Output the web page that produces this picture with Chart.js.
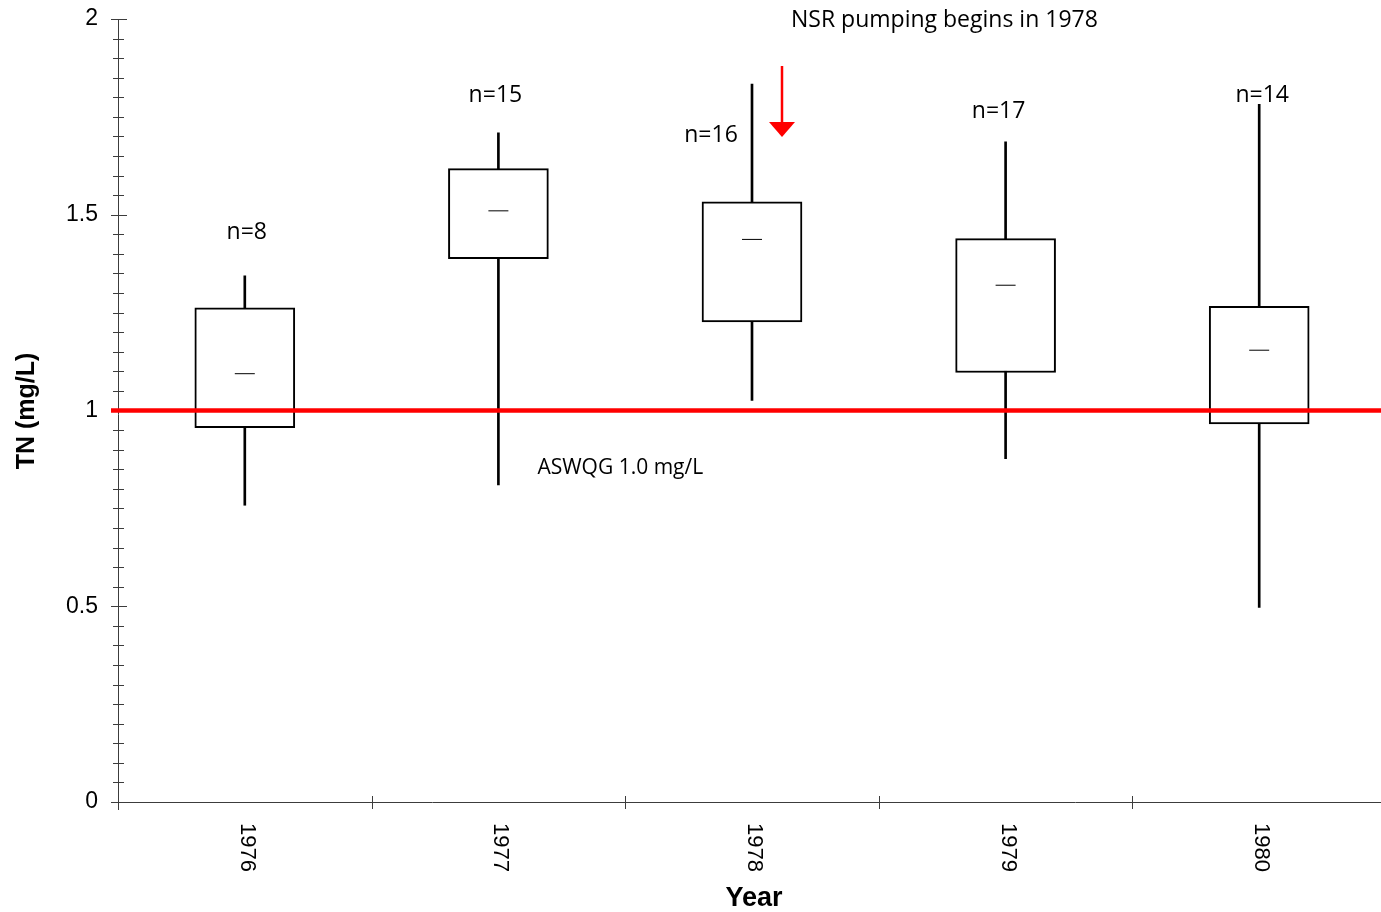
<!DOCTYPE html>
<html>
<head>
<meta charset="utf-8">
<title>TN by year</title>
<script src="https://cdn.jsdelivr.net/npm/chart.js@4.4.0/dist/chart.umd.min.js"></script>
<style>
    html { overflow: hidden; }
    html, body { margin: 0; padding: 0; background: #fff; width: 1397px; height: 912px; }
    #wrap { position: relative; width: 1397px; height: 912px; }
</style>
</head>
<body>
<div id="wrap"><canvas id="tnChart"></canvas></div>
<script>
// Total nitrogen summary per sampling year
const years = ['1976', '1977', '1978', '1979', '1980'];
const sampleCounts = [8, 15, 16, 17, 14];
const whiskerMin = [0.758, 0.81, 1.026, 0.877, 0.497];
const quartile1 = [0.956, 1.388, 1.226, 1.097, 0.966];
const medians = [1.094, 1.510, 1.437, 1.320, 1.154];
const quartile3 = [1.262, 1.618, 1.533, 1.439, 1.266];
const whiskerMax = [1.344, 1.709, 1.834, 1.686, 1.782];
const yTickValues = [0, 0.5, 1, 1.5, 2];
const guideline = 1.0;

// Where the n= labels sit (value on the y scale, pixel shift from the box centre)
const countLabelPos = [
    { y: 1.455, dx: 2 },
    { y: 1.805, dx: -3 },
    { y: 1.703, dx: -41 },
    { y: 1.764, dx: -7 },
    { y: 1.805, dx: 3 }
];

const SANS = '"Liberation Sans", Arial, sans-serif';
const NOTE = '"Open Sans", "Noto Sans", sans-serif';

const decorations = {
    id: 'tnDecorations',
    afterDatasetsDraw(chart) {
        const { ctx, chartArea, scales: { x, y } } = chart;
        const left = chartArea.left, bottom = chartArea.bottom;
        const right = chart.width;
        const band = x.getPixelForTick(1) - x.getPixelForTick(0);

        ctx.save();
        ctx.strokeStyle = '#3c3c3c';
        ctx.lineWidth = 1;

        // y axis with crossing ticks every 0.05
        ctx.beginPath();
        ctx.moveTo(left + 0.5, chartArea.top);
        ctx.lineTo(left + 0.5, bottom + 8);
        y.ticks.forEach(t => {
            const py = Math.round(y.getPixelForValue(t.value)) + 0.5;
            const major = Math.abs(t.value * 2 - Math.round(t.value * 2)) < 1e-6;
            ctx.moveTo(left - (major ? 7 : 5), py);
            ctx.lineTo(left + (major ? 9 : 6), py);
        });
        ctx.stroke();

        // x axis with ticks on the category boundaries
        ctx.beginPath();
        ctx.moveTo(left - 7, bottom + 0.5);
        ctx.lineTo(right, bottom + 0.5);
        for (let i = 0; i <= years.length; i++) {
            const px = Math.round(x.getPixelForTick(0) - band / 2 + i * band) + 0.5;
            ctx.moveTo(px, bottom - 6);
            ctx.lineTo(px, bottom + 7);
        }
        ctx.stroke();

        // year labels, rotated to read downwards
        ctx.fillStyle = '#000';
        ctx.font = '22px ' + SANS;
        ctx.textAlign = 'left';
        ctx.textBaseline = 'middle';
        years.forEach((yr, i) => {
            ctx.save();
            ctx.translate(x.getPixelForTick(i) + 2, bottom + 21);
            ctx.rotate(Math.PI / 2);
            ctx.fillText(yr, 0, 0);
            ctx.restore();
        });

        // axis titles
        ctx.font = 'bold 25px ' + SANS;
        ctx.textAlign = 'center';
        ctx.save();
        ctx.translate(27, 411);
        ctx.rotate(-Math.PI / 2);
        ctx.fillText('TN (mg/L)', 0, 0);
        ctx.restore();
        ctx.font = 'bold 27px ' + SANS;
        ctx.textBaseline = 'alphabetic';
        ctx.fillText('Year', 754, 906);

        // guideline
        const gy = y.getPixelForValue(guideline);
        ctx.strokeStyle = '#ff0000';
        ctx.lineWidth = 4.5;
        ctx.beginPath();
        ctx.moveTo(left - 7, gy);
        ctx.lineTo(right, gy);
        ctx.stroke();

        ctx.font = '21px ' + NOTE;
        ctx.textAlign = 'left';
        ctx.textBaseline = 'middle';
        ctx.fillText('ASWQG 1.0 mg/L', x.getPixelForTick(1) + 39, y.getPixelForValue(0.853));

        // sample counts
        ctx.font = '23px ' + NOTE;
        ctx.textAlign = 'center';
        sampleCounts.forEach((n, i) => {
            const pos = countLabelPos[i];
            ctx.fillText('n=' + n, x.getPixelForTick(i) + pos.dx, y.getPixelForValue(pos.y));
        });

        // pumping start marker over 1978
        const ax = x.getPixelForTick(2) + 30;
        ctx.textAlign = 'left';
        ctx.fillText('NSR pumping begins in 1978', ax + 9, 20);
        ctx.strokeStyle = '#ff0000';
        ctx.fillStyle = '#ff0000';
        ctx.lineWidth = 2.5;
        ctx.beginPath();
        ctx.moveTo(ax, 66);
        ctx.lineTo(ax, 124);
        ctx.stroke();
        ctx.beginPath();
        ctx.moveTo(ax - 13, 122);
        ctx.lineTo(ax + 13, 122);
        ctx.lineTo(ax, 137);
        ctx.closePath();
        ctx.fill();

        ctx.restore();
    }
};

new Chart(document.getElementById('tnChart'), {
    type: 'bar',
    data: {
        labels: years,
        datasets: [{
            type: 'bar',
            label: 'Range',
            data: years.map((_, i) => [whiskerMin[i], whiskerMax[i]]),
            backgroundColor: '#000',
            barThickness: 2,
            grouped: false,
            order: 3
        }, {
            type: 'bar',
            label: 'Interquartile',
            data: years.map((_, i) => [quartile1[i], quartile3[i]]),
            backgroundColor: '#fff',
            borderColor: '#000',
            borderWidth: 2,
            borderSkipped: false,
            barThickness: 100,
            grouped: false,
            order: 2
        }, {
            type: 'line',
            label: 'Median',
            data: medians,
            showLine: false,
            pointStyle: 'line',
            pointRadius: 10,
            pointBorderWidth: 1,
            borderColor: '#000',
            order: 1
        }]
    },
    options: {
        responsive: true,
        maintainAspectRatio: false,
        devicePixelRatio: 1,
        animation: false,
        layout: { padding: { top: 19, right: 5, left: 0, bottom: 0 } },
        plugins: { legend: { display: false }, tooltip: { enabled: false } },
        scales: {
            x: {
                type: 'category',
                offset: true,
                grid: { display: false, drawTicks: false },
                border: { display: false },
                ticks: { display: false, padding: 0 },
                afterFit: scale => {
                    scale.height = 110;
                    scale.paddingLeft = 0;
                    scale.paddingRight = 0;
                }
            },
            y: {
                min: 0,
                max: 2,
                grid: { display: false, drawTicks: false },
                border: { display: false },
                ticks: {
                    stepSize: 0.05,
                    autoSkip: false,
                    padding: 20,
                    color: '#000',
                    font: { family: SANS, size: 23 },
                    callback: value => {
                        const hit = yTickValues.find(v => Math.abs(v - value) < 1e-6);
                        return hit === undefined ? '' : String(hit);
                    }
                },
                afterFit: scale => {
                    scale.width = 118;
                    scale.paddingTop = 0;
                    scale.paddingBottom = 0;
                }
            }
        }
    },
    plugins: [decorations]
});
</script>
</body>
</html>
